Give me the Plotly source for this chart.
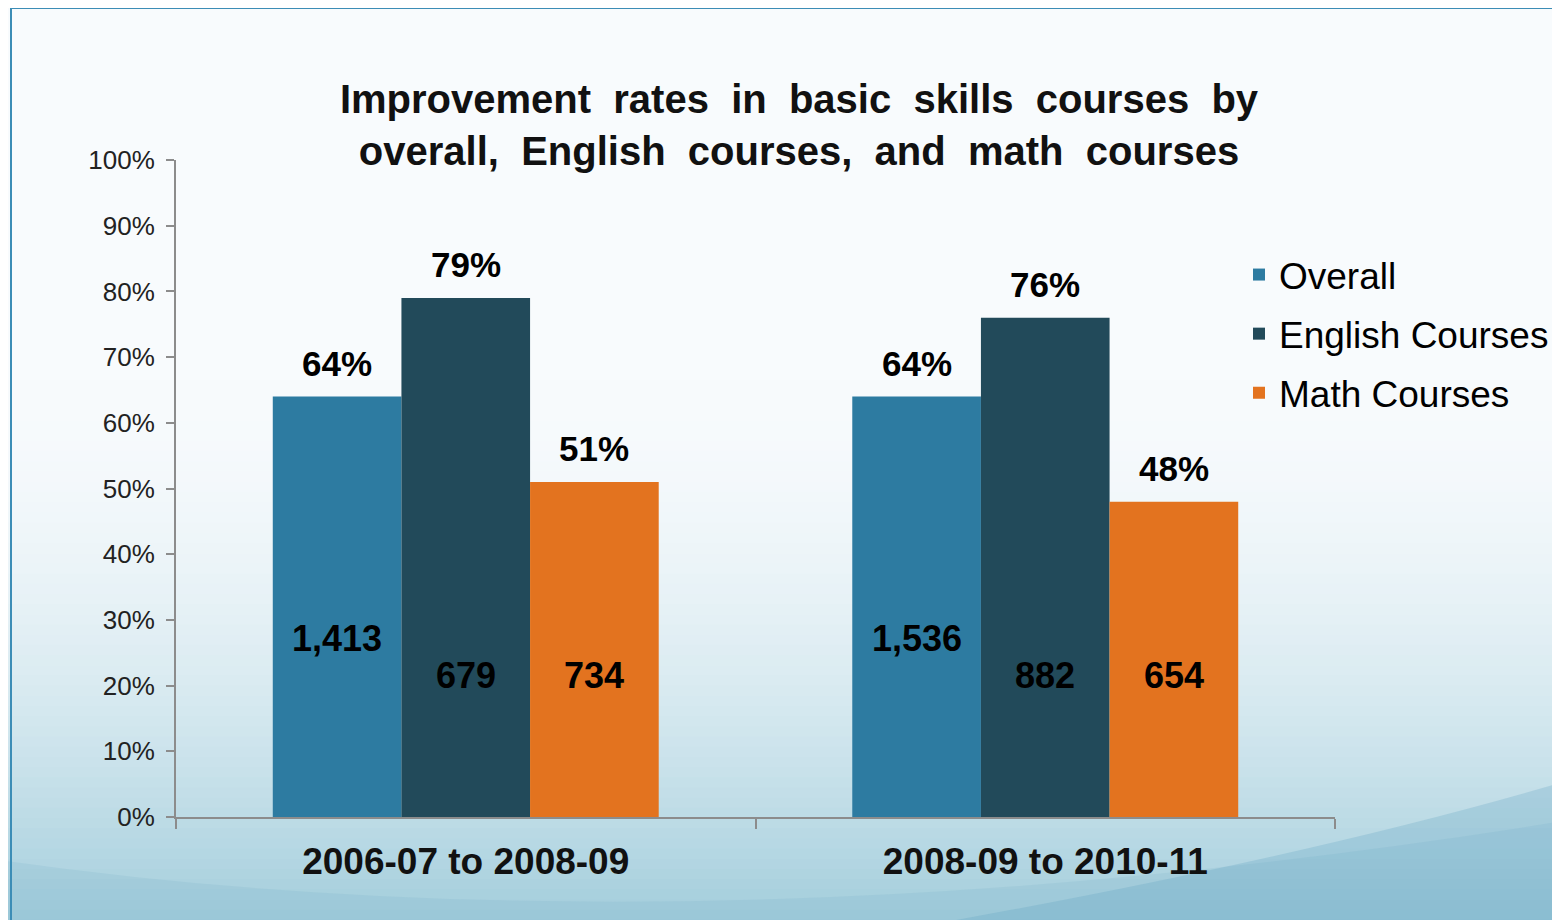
import plotly.graph_objects as go

# ---- data ----
periods = ["2006-07 to 2008-09", "2008-09 to 2010-11"]
series_names = ["Overall", "English Courses", "Math Courses"]
overall_rate = [64, 64]
english_rate = [79, 76]
math_rate = [51, 48]
overall_n = ["1,413", "1,536"]
english_n = ["679", "882"]
math_n = ["734", "654"]
y_ticks = [0, 10, 20, 30, 40, 50, 60, 70, 80, 90, 100]

# ---- style ----
colors = ["#2D7BA1", "#224A5A", "#E3731F"]
FONT = "Liberation Sans, Arial, sans-serif"
OFF = 8                      # page body margin
W, H = 1560 - OFF, 920 - OFF
# plot area in page pixels: x 176..1335, y 160..817
PL, PR, PT, PB = 176, 1335, 160, 817
ML, MT = PL - OFF, PT - OFF
MR, MB = W - (PR - OFF), H - (PB - OFF)
BARGAP = 0.334
count_label_y = [27.2, 21.6, 21.6]  # label heights inside bars (axis units)

rates = [overall_rate, english_rate, math_rate]
counts = [overall_n, english_n, math_n]

fig = go.Figure()
for i, name in enumerate(series_names):
    fig.add_trace(go.Bar(
        x=periods, y=rates[i], name=name, marker_color=colors[i],
        marker_line_width=0, legendgroup=name, hoverinfo="skip",
    ))

bw = (1 - BARGAP) / 3
offsets = [-bw, 0, bw]
annotations = []
for i in range(3):
    for j in range(len(periods)):
        annotations.append(dict(
            x=j + offsets[i], y=rates[i][j], xref="x", yref="y",
            text=f"<b>{rates[i][j]}%</b>", showarrow=False,
            yanchor="middle", yshift=33,
            font=dict(family=FONT, size=35, color="#000000"),
        ))
        annotations.append(dict(
            x=j + offsets[i], y=count_label_y[i], xref="x", yref="y",
            text=f"<b>{counts[i][j]}</b>", showarrow=False,
            yanchor="middle",
            font=dict(family=FONT, size=36, color="#000000"),
        ))

# page pixel -> paper coords
def px2x(px):
    return (px - PL) / (PR - PL)

def py2y(py):
    return (PB - py) / (PB - PT)

shapes = []
top_c = (248, 251, 253)
bot_c = (160, 204, 219)
start = 380
nb = 54
end = 930
step = (end - start) / nb
shapes.append(dict(type="rect", xref="paper", yref="paper",
                   x0=px2x(0), x1=px2x(1570), y0=py2y(0), y1=py2y(start),
                   fillcolor="rgb(%d,%d,%d)" % top_c, line_width=0, layer="below"))
for k in range(nb):
    t = ((k + 0.5) / nb) ** 1.8
    c = tuple(int(top_c[m] + (bot_c[m] - top_c[m]) * t) for m in range(3))
    y0 = start + k * step
    shapes.append(dict(type="rect", xref="paper", yref="paper",
                       x0=px2x(0), x1=px2x(1570), y0=py2y(y0), y1=py2y(y0 + step + 1),
                       fillcolor="rgb(%d,%d,%d)" % c, line_width=0, layer="below"))
# swoosh accents at the bottom
sw1 = "M %f,%f Q %f,%f %f,%f L %f,%f L %f,%f Z" % (
    px2x(0), py2y(860), px2x(700), py2y(960), px2x(1570), py2y(820),
    px2x(1570), py2y(930), px2x(0), py2y(930))
shapes.append(dict(type="path", xref="paper", yref="paper", path=sw1,
                   fillcolor="rgba(110,170,195,0.15)", line_width=0, layer="below"))
sw2 = "M %f,%f Q %f,%f %f,%f L %f,%f Z" % (
    px2x(900), py2y(930), px2x(1300), py2y(860), px2x(1570), py2y(780),
    px2x(1570), py2y(930))
shapes.append(dict(type="path", xref="paper", yref="paper", path=sw2,
                   fillcolor="rgba(90,160,190,0.25)", line_width=0, layer="below"))
# slide frame lines
shapes.append(dict(type="line", xref="paper", yref="paper",
                   x0=px2x(11), x1=px2x(11), y0=py2y(8), y1=py2y(930),
                   line=dict(color="#3C8DB6", width=2)))
shapes.append(dict(type="line", xref="paper", yref="paper",
                   x0=px2x(11), x1=px2x(1570), y0=py2y(8), y1=py2y(8),
                   line=dict(color="#3C8DB6", width=2)))

title_text = ("<b>Improvement &nbsp;rates &nbsp;in &nbsp;basic &nbsp;skills &nbsp;courses &nbsp;by<br>"
              "overall, &nbsp;English &nbsp;courses, &nbsp;and &nbsp;math &nbsp;courses</b>")

fig.update_layout(
    width=W, height=H,
    margin=dict(l=ML, r=MR, t=MT, b=MB, autoexpand=False),
    paper_bgcolor="rgb(248,251,253)",
    plot_bgcolor="rgba(0,0,0,0)",
    barmode="group", bargap=BARGAP, bargroupgap=0,
    title=dict(
        text=title_text,
        x=px2x(799), xanchor="center", xref="paper",
        y=1 - (113 - OFF) / H, yanchor="top", yref="container",
        font=dict(family=FONT, size=40, color="#111111"),
    ),
    font=dict(family=FONT, color="#000000"),
    legend=dict(
        x=px2x(1239), xanchor="left", y=py2y(244), yanchor="top",
        font=dict(family=FONT, size=37, color="#000000"),
        bgcolor="rgba(0,0,0,0)", tracegroupgap=8, traceorder="grouped",
    ),
    xaxis=dict(
        showgrid=False, showline=True, linecolor="#8C8C8C", linewidth=2,
        ticks="outside", tickson="boundaries", ticklen=10, tickcolor="#8C8C8C", tickwidth=2,
        tickfont=dict(family=FONT, size=37, color="#111111"),
        ticklabelstandoff=11,
        tickprefix="<b>", ticksuffix="</b>",
    ),
    yaxis=dict(
        range=[0, 100], tickvals=y_ticks, ticktext=[f"{v}%" for v in y_ticks],
        showgrid=False, zeroline=False, showline=True, linecolor="#8C8C8C", linewidth=2,
        ticks="outside", ticklen=8, tickcolor="#8C8C8C", tickwidth=2,
        tickfont=dict(family=FONT, size=26, color="#222222"),
        ticklabelstandoff=6,
    ),
    annotations=annotations,
    shapes=shapes,
)

fig.write_html("out.html")
